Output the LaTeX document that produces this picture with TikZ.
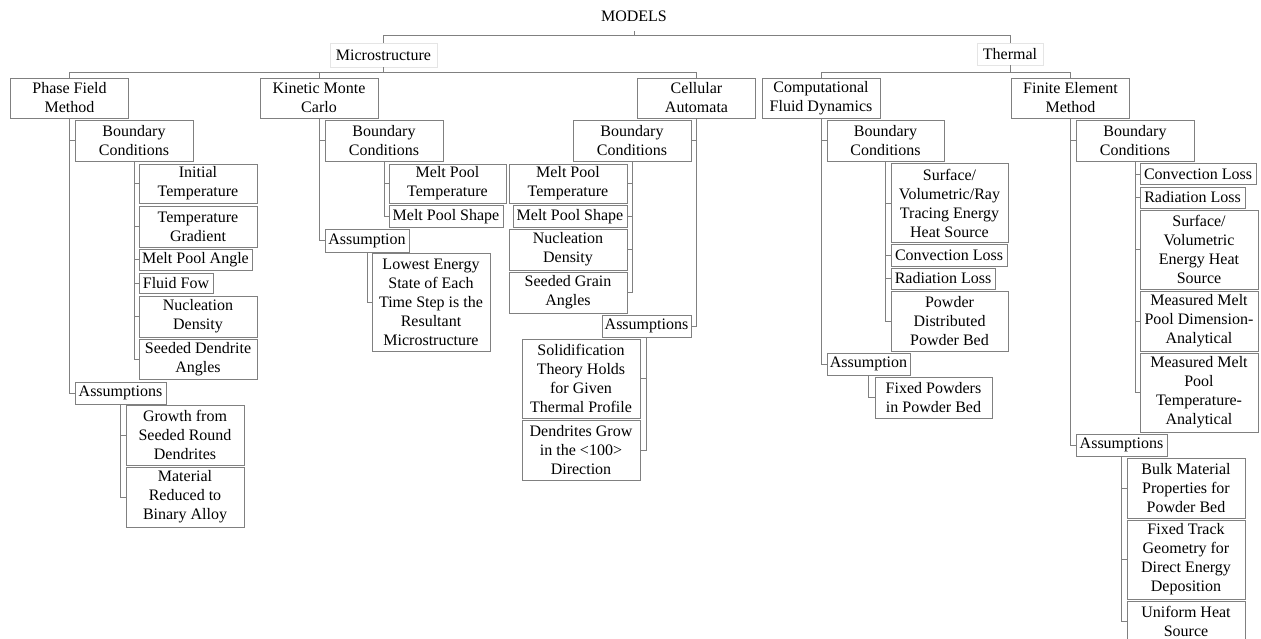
\documentclass[tikz,border=0pt]{standalone}
\usepackage{fontspec}
\setmainfont{Liberation Serif}
\usepackage{tikz}

\begin{document}
\begin{tikzpicture}
  [x=1pt,y=-1pt,line width=.8pt,gray,
   every node/.style={draw=gray,text=black,align=center,inner sep=0pt,
     minimum width=118,minimum height=41,font=\fontsize{16}{19}\selectfont}]
  \useasboundingbox (0,0) rectangle (1261,639);
  \node[draw=none,minimum height=30] (1) at (634,16) {MODELS};
  \node[draw=gray!20,minimum width=107,minimum height=24] (2) at (383.5,55) {Microstructure};
  \node[draw=gray!20,minimum width=66,minimum height=22] (3) at (1010,54) {Thermal};
  \node[minimum height=40] (4) at (69.5,98) {Phase Field\\Method};
  \node[minimum height=40] (5) at (319,98) {Kinetic Monte\\Carlo};
  \node[minimum height=40] (6) at (696.5,98) {Cellular\\Automata};
  \node[minimum height=40] (7) at (821,98) {Computational\\Fluid Dynamics};
  \node[minimum height=40] (8) at (1070.5,98) {Finite Element\\Method};

  \node (9) at (134,140.5) {Boundary\\Conditions};
  \node[minimum height=39] (10) at (198,183.5) {Initial\\Temperature};
  \node (11) at (198,226.5) {Temperature\\Gradient};
  \node[minimum width=113,minimum height=21] (12) at (195.5,259.5) {Melt Pool Angle};
  \node[minimum width=74,minimum height=20] (13) at (176,283) {Fluid Fow};
  \node (14) at (198,316.5) {Nucleation\\Density};
  \node[minimum height=40] (15) at (198,359) {Seeded Dendrite\\Angles};
  \node[minimum width=91,minimum height=22] (16) at (120.5,393) {Assumptions};
  \node[minimum height=60] (17) at (185,435) {Growth from\\Seeded Round\\Dendrites};
  \node[minimum height=60] (18) at (185,497) {Material\\Reduced to\\Binary Alloy};

  \node (19) at (384,140.5) {Boundary\\Conditions};
  \node[minimum width=117,minimum height=39] (20) at (447.5,183.5) {Melt Pool\\Temperature};
  \node[minimum width=114,minimum height=22] (21) at (446,216.5) {Melt Pool Shape};
  \node[minimum width=84,minimum height=23] (22) at (367,240.5) {Assumption};
  \node[minimum height=98] (23) at (431,302.5) {Lowest Energy\\State of Each\\Time Step is the\\Resultant\\Microstructure};

  \node (24) at (632,140.5) {Boundary\\Conditions};
  \node[minimum height=39] (25) at (568,183.5) {Melt Pool\\Temperature};
  \node[minimum width=114,minimum height=22] (26) at (570,216.5) {Melt Pool Shape};
  \node (27) at (568,249.5) {Nucleation\\Density};
  \node (28) at (568,292.5) {Seeded Grain\\Angles};
  \node[minimum width=89,minimum height=22] (29) at (646.5,326) {Assumptions};
  \node[minimum height=79] (30) at (581,378.5) {Solidification\\Theory Holds\\for Given\\Thermal Profile};
  \node[minimum height=60] (31) at (581,450) {Dendrites Grow\\in the <100>\\Direction};

  \node[minimum width=117] (32) at (885.5,140.5) {Boundary\\Conditions};
  \node[minimum width=117,minimum height=79] (33) at (949.5,203) {Surface/\\Volumetric/Ray\\Tracing Energy\\Heat Source};
  \node[minimum width=116,minimum height=22] (34) at (949,255) {Convection Loss};
  \node[minimum width=104,minimum height=21] (35) at (943,278.5) {Radiation Loss};
  \node[minimum width=117,minimum height=60] (36) at (949.5,321) {Powder\\Distributed\\Powder Bed};
  \node[minimum width=83,minimum height=22] (37) at (868.5,364) {Assumption};
  \node[minimum width=117] (38) at (933.5,397.5) {Fixed Powders\\in Powder Bed};

  \node (39) at (1135,140.5) {Boundary\\Conditions};
  \node[minimum width=116,minimum height=21] (40) at (1198,174) {Convection Loss};
  \node[minimum width=105,minimum height=21] (41) at (1192.5,197.5) {Radiation Loss};
  \node[minimum height=79] (42) at (1199,249.5) {Surface/\\Volumetric\\Energy Heat\\Source};
  \node[minimum height=60] (43) at (1199,321) {Measured Melt\\Pool Dimension-\\Analytical};
  \node[minimum height=79] (44) at (1199,392.5) {Measured Melt\\Pool\\Temperature-\\Analytical};
  \node[minimum width=91,minimum height=22] (45) at (1121.5,445) {Assumptions};
  \node[minimum height=60] (46) at (1186,488) {Bulk Material\\Properties for\\Powder Bed};
  \node[minimum height=79] (47) at (1186,559.5) {Fixed Track\\Geometry for\\Direct Energy\\Deposition};
  \node (48) at (1186,621.5) {Uniform Heat\\Source};

  % bus points
  \coordinate (t0) at (634,35);
  \coordinate (t1) at (383.5,72);
  \coordinate (t2) at (1010,72);

  \draw (1.south) -- (t0) -| (2.north);
  \draw (t0) -| (3.north);
  \foreach \to in {4,5,6}
    \draw (2.south) -- (t1) -| (\to.north);
  \foreach \to in {7,8}
    \draw (3.south) -- (t2) -| (\to.north);

  \foreach \from/\to in {4/9,4/16,9/10,9/11,9/12,9/13,9/14,9/15,16/17,16/18,
                         5/19,5/22,19/20,19/21,22/23,
                         7/32,7/37,32/33,32/34,32/35,32/36,37/38,
                         8/39,8/45,39/40,39/41,39/42,39/43,39/44,45/46,45/47,45/48}
    \draw (\from.south) |- (\to.west);
  \foreach \from/\to in {6/24,6/29,24/25,24/26,24/27,24/28,29/30,29/31}
    \draw (\from.south) |- (\to.east);

\end{tikzpicture}
\end{document}
